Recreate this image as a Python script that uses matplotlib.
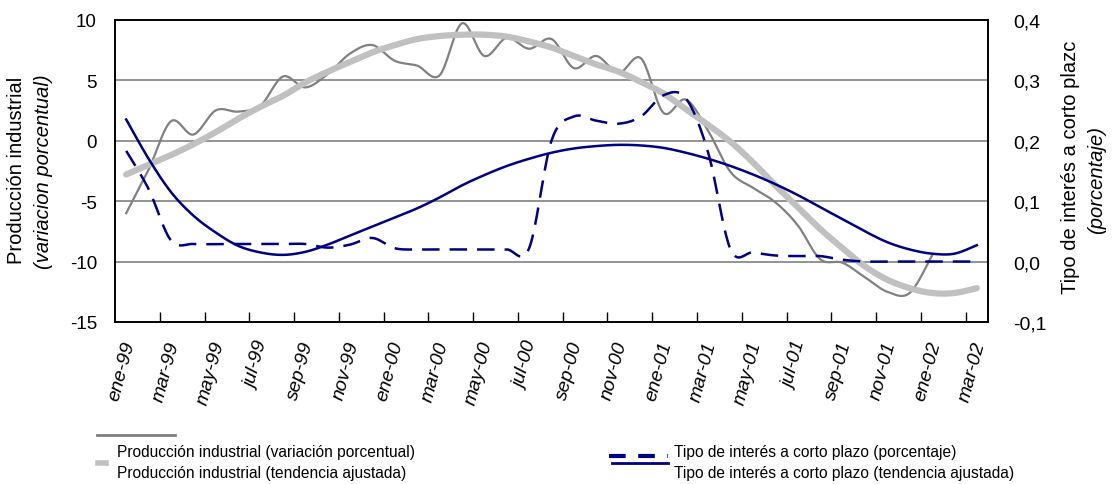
import numpy as np
import matplotlib
matplotlib.use("Agg")
import matplotlib.pyplot as plt
from matplotlib.lines import Line2D

plt.rcParams['font.family'] = ['Liberation Sans', 'DejaVu Sans']

# meses ene-99 .. mar-02
meses = ['ene', 'feb', 'mar', 'abr', 'may', 'jun', 'jul', 'ago', 'sep', 'oct', 'nov', 'dic']
etiquetas = [f"{meses[m % 12]}-{(99 + m // 12) % 100:02d}" for m in range(39)]

# Producción industrial (variación porcentual), eje izquierdo
prod = [-6.0, -2.4, 1.6, 0.5, 2.5, 2.4, 2.9, 5.3, 4.4, 5.5,
        7.2, 7.9, 6.6, 6.2, 5.4, 9.7, 7.0, 8.5, 7.6, 8.4,
        6.0, 7.0, 5.6, 6.8, 2.3, 3.4, 0.8, -2.6, -3.9, -5.1,
        -7.0, -9.8, -10.1, -11.3, -12.5, -12.6, -9.5]

# Producción industrial (tendencia ajustada)
prod_tend = [-2.8, -2.0, -1.2, -0.3, 0.7, 1.8, 2.8, 3.7, 4.8, 5.7,
             6.5, 7.3, 7.9, 8.4, 8.65, 8.76, 8.76, 8.6, 8.2, 7.7,
             7.0, 6.3, 5.7, 4.85, 3.9, 2.6, 1.3, -0.1, -1.8, -3.7,
             -5.5, -7.3, -8.9, -10.4, -11.5, -12.2, -12.6, -12.6, -12.2]

# Tipo de interés a corto plazo (porcentaje), eje derecho
tipo = [0.183, 0.12, 0.035, 0.029, 0.029, 0.029, 0.029, 0.029, 0.029, 0.023,
        0.028, 0.039, 0.022, 0.020, 0.020, 0.020, 0.020, 0.020, 0.022, 0.200,
        0.240, 0.233, 0.228, 0.240, 0.275, 0.270, 0.180, 0.020, 0.015, 0.010,
        0.009, 0.009, 0.003, 0.0, 0.0, 0.0, 0.0, 0.0, 0.0]

# Tipo de interés a corto plazo (tendencia ajustada)
tipo_tend = [0.235, 0.170, 0.115, 0.076, 0.048, 0.026, 0.015, 0.011, 0.016, 0.028,
             0.043, 0.058, 0.073, 0.088, 0.106, 0.126, 0.143, 0.158, 0.170, 0.180,
             0.187, 0.191, 0.193, 0.192, 0.188, 0.180, 0.170, 0.158, 0.144, 0.128,
             0.110, 0.090, 0.070, 0.050, 0.032, 0.020, 0.013, 0.013, 0.027]


def suave(y, n=20):
    # línea suavizada tipo Excel (Catmull-Rom) que pasa por todos los puntos
    y = np.asarray(y, dtype=float)
    x = np.arange(len(y), dtype=float)
    px = np.concatenate([[x[0]], x, [x[-1]]])
    py = np.concatenate([[y[0]], y, [y[-1]]])
    xs, ys = [], []
    t = np.linspace(0, 1, n, endpoint=False)
    for i in range(1, len(px) - 2):
        p0x, p1x, p2x, p3x = px[i - 1], px[i], px[i + 1], px[i + 2]
        p0y, p1y, p2y, p3y = py[i - 1], py[i], py[i + 1], py[i + 2]
        c1x, c1y = p1x + (p2x - p0x) / 6, p1y + (p2y - p0y) / 6
        c2x, c2y = p2x - (p3x - p1x) / 6, p2y - (p3y - p1y) / 6
        b0, b1, b2, b3 = (1 - t) ** 3, 3 * (1 - t) ** 2 * t, 3 * (1 - t) * t ** 2, t ** 3
        xs.append(b0 * p1x + b1 * c1x + b2 * c2x + b3 * p2x)
        ys.append(b0 * p1y + b1 * c1y + b2 * c2y + b3 * p2y)
    xs.append([x[-1]])
    ys.append([y[-1]])
    return np.concatenate(xs), np.concatenate(ys)


fig = plt.figure(figsize=(11.14, 4.85), dpi=100)
ax = fig.add_axes([115 / 1114, 1 - 323 / 485, (988 - 115) / 1114, (323 - 20.7) / 485])
ax2 = ax.twinx()

GRIS = '#808080'
GRIS_CLARO = '#c0c0c0'
AZUL = '#000080'

ax.set_xlim(-0.5, 38.5)
ax.set_ylim(-15, 10)
ax2.set_ylim(-0.1, 0.4)

for v in [5, 0, -5, -10]:
    ax.axhline(v, color='#808080', lw=1.2, zorder=0)

x, y = suave(prod)
ax.plot(x, y, color=GRIS, lw=1.6, zorder=2)
x, y = suave(prod_tend)
ax.plot(x, y, color=GRIS_CLARO, lw=4.5, solid_capstyle='round', zorder=3)
x, y = suave(tipo)
ax2.plot(x, y, color=AZUL, lw=1.8, dashes=(7, 4))
x, y = suave(tipo_tend)
ax2.plot(x, y, color=AZUL, lw=1.8)

# eje x: marcas entre categorías cada 2 meses
ax.set_xticks(np.arange(1.5, 38, 2))
ax.set_xticklabels([])
ax.tick_params(axis='x', direction='in', length=7, width=1)
for i in range(0, 39, 2):
    ax.text(i + 0.15, -16.6, etiquetas[i], rotation=75,
            rotation_mode='anchor', ha='right', va='center', fontsize=14,
            style='italic', clip_on=False)

ax.set_yticks([10, 5, 0, -5, -10, -15])
ax.set_yticklabels(['10', '5', '0', '-5', '-10', '-15'])
ax.tick_params(axis='y', length=0, pad=13, labelsize=13.5)
ax2.set_yticks([0.4, 0.3, 0.2, 0.1, 0.0, -0.1])
ax2.set_yticklabels(['0,4', '0,3', '0,2', '0,1', '0,0', '-0,1'])
ax2.tick_params(axis='y', length=0, pad=18, labelsize=14)

for a in (ax, ax2):
    for s in a.spines.values():
        s.set_color('black')
        s.set_linewidth(1.2)

# títulos de ejes
fig.text(17 / 1114, 1 - 170 / 485, 'Producción industrial', rotation=90,
         ha='center', va='center', fontsize=14.5)
fig.text(44 / 1114, 1 - 172 / 485, '(variacion porcentual)', rotation=90,
         ha='center', va='center', fontsize=14.5, style='italic')
fig.text(1070 / 1114, 1 - 167 / 485, 'Tipo de interés a corto plazc', rotation=90,
         ha='center', va='center', fontsize=14.5)
fig.text(1097 / 1114, 1 - 180 / 485, '(porcentaje)', rotation=90,
         ha='center', va='center', fontsize=14.5, style='italic')

# leyenda
def linea(x0, x1, yy, **kw):
    fig.add_artist(Line2D([x0 / 1114, x1 / 1114], [1 - yy / 485, 1 - yy / 485],
                          transform=fig.transFigure, **kw))

linea(97, 175, 436, color=GRIS, lw=2)
linea(98, 106, 464, color=GRIS_CLARO, lw=4)
linea(609, 668, 457, color=AZUL, lw=3, dashes=(4, 3))
linea(612, 668, 464, color=AZUL, lw=2)
fig.text(117 / 1114, 1 - 453 / 485, 'Producción industrial (variación porcentual)',
         ha='left', va='center', fontsize=11.2)
fig.text(117 / 1114, 1 - 474 / 485, 'Producción industrial (tendencia ajustada)',
         ha='left', va='center', fontsize=11.2)
fig.text(674 / 1114, 1 - 453 / 485, 'Tipo de interés a corto plazo (porcentaje)',
         ha='left', va='center', fontsize=11.2)
fig.text(674 / 1114, 1 - 474 / 485, 'Tipo de interés a corto plazo (tendencia ajustada)',
         ha='left', va='center', fontsize=11.2)

fig.savefig('out.png', dpi=100)
